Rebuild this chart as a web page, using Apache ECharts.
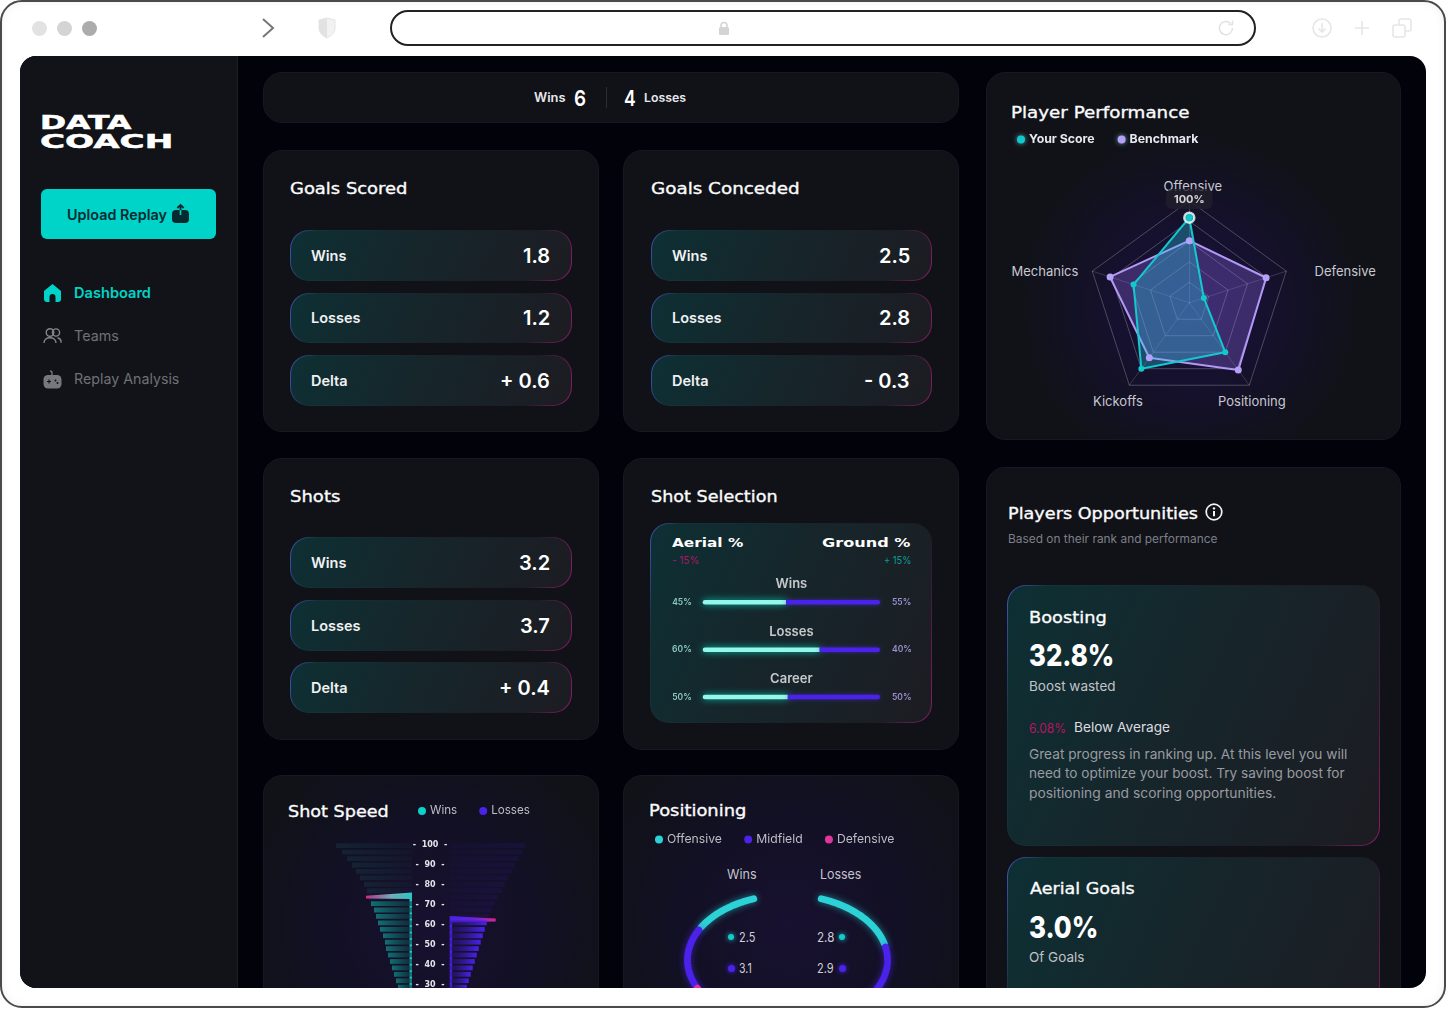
<!DOCTYPE html>
<html><head><meta charset="utf-8"><title>Data Coach</title>
<style>
html,body{margin:0;padding:0;background:#fff;width:1446px;height:1025px;overflow:hidden;font-family:Inter,sans-serif}
#frame{position:absolute;left:0;top:0;width:1442px;height:1004px;border:2px solid #4a4a4a;border-radius:22px;box-shadow:inset 0 0 10px rgba(0,0,0,.06)}
#app{position:absolute;left:0;top:0;width:1446px;height:1025px;clip-path:inset(56px 20px 37px 20px round 16px);background:#02020a}
#chart{position:absolute;left:0;top:0;width:1446px;height:1025px}
.box{position:absolute;box-sizing:border-box}
.panel{background:#101218;border:1px solid #161823;border-radius:19px}
.row{border:1.5px solid transparent;border-radius:19px;
 background:linear-gradient(115deg,#0d3034 0%,#16262b 45%,#1c1c22 100%) padding-box,
 linear-gradient(105deg,#4556b8 0%,#14333a 9%,#17262c 45%,#1c1c23 84%,#8c1c68 100%) border-box}
.t{position:absolute;white-space:nowrap;line-height:1;transform-origin:0 50%}
.title{font-family:"DejaVu Sans",sans-serif;font-weight:400;color:#f4f4f6;-webkit-text-stroke:.35px #f4f4f6}
.logo{-webkit-text-stroke:.5px #fff}
.dot{position:absolute;border-radius:50%}
</style></head><body>
<div id="app"><div id="ui"></div><div id="chart"></div></div>
<div id="frame"></div>
<div id="chrome"></div>
<script src="https://cdn.jsdelivr.net/npm/echarts@6/dist/echarts.min.js"></script>
<script>
// ---------- data ----------
const recordWins = 6, recordLosses = 4;
const rowLabels = ['Wins','Losses','Delta'];
const goalsScored = ['1.8','1.2','+ 0.6'];
const goalsConceded = ['2.5','2.8','- 0.3'];
const shotsValues = ['3.2','3.7','+ 0.4'];
const selectionCats = ['Wins','Losses','Career'];
const aerialShare = [45,60,50];
const groundShare = [55,40,50];
const aerialDrawn = [47,66,48];
const groundDrawn = [53,34,52];
const radarAxes = ['Offensive','Mechanics','Kickoffs','Positioning','Defensive'];
const yourScore = [100,69,96,72,18];
const benchmark = [73,98,80,98,95];
const speedTicks = ['100','96.8','93.6','90.4','87.2','84','80.8','77.6','74.4','71.2','68','64.8','61.6','58.4','55.2','52','48.8','45.6','42.4','39.2','36','32.8','29.6','26.4','23.2','20'];
const speedWins = [76,70,65,60,56,52,48,45,43,41,38,36,34,32,29,27,26,24,22,20,18,16,14,12,10,8];
const speedLosses = [75,72,68,65,62,58,55,52,48,45,42,40,37,35,33,31,29,27,25,23,21,19,17,15,13,11];
const winsMarker = [46,76.3,74.6,73.3,73];
const lossesMarker = [46,64.5,63.3,61.7,61.3];
const positionNames = ['Offensive','Midfield','Defensive'];
const positionWins = [2.5,3.1,2.6];
const positionLosses = [2.8,2.9,1.0];

// ---------- page helpers ----------
const ui = document.getElementById('ui');
function box(x0,y0,x1,y1,cls,style){const d=document.createElement('div');d.className='box '+(cls||'');
 d.style.cssText=`left:${x0}px;top:${y0}px;width:${x1-x0}px;height:${y1-y0}px;`+(style||'');ui.appendChild(d);return d;}
function T(text,x,cy,o){o=o||{};const d=document.createElement('div');d.className='t '+(o.cls||'');d.textContent=text;
 d.style.fontSize=(o.s||13)+'px';d.style.fontWeight=o.b||400;d.style.color=o.c||'#fff';if(o.f)d.style.fontFamily=o.f;
 (o.parent||ui).appendChild(d);const h=d.offsetHeight,w=d.offsetWidth;d.style.top=(cy-h/2)+'px';
 let sx=o.w?o.w/w:1,left=x;const fw=w*sx;if(o.a==='r')left=x-fw;if(o.a==='c')left=x-fw/2;d.style.left=left+'px';
 if(o.w)d.style.transform=`scaleX(${sx})`;return d;}
function title(text,x,cy,w,s){return T(text,x,cy+2,{s:s||15.5,w,cls:'title'});}
function svg(x,y,w,h,inner,parent){const d=document.createElement('div');d.style.cssText=`position:absolute;left:${x}px;top:${y}px;width:${w}px;height:${h}px`;
 d.innerHTML=`<svg width="${w}" height="${h}" viewBox="0 0 ${w} ${h}" style="display:block;overflow:visible">${inner}</svg>`;(parent||ui).appendChild(d);}
function dot(cx,cy,r,c){const d=document.createElement('div');d.className='dot';d.style.cssText=`left:${cx-r}px;top:${cy-r}px;width:${2*r}px;height:${2*r}px;background:${c};box-shadow:0 0 5px ${c}`;ui.appendChild(d);}

// ---------- browser chrome ----------
const chrome=document.getElementById('chrome');
[[39.5,'#e2e2e2'],[64.5,'#d4d4d4'],[89.5,'#acacac']].forEach(([x,c])=>{const d=document.createElement('div');d.className='dot';d.style.cssText=`left:${x-7.5}px;top:20.5px;width:15px;height:15px;background:${c}`;chrome.appendChild(d);});
svg(260,16,16,24,'<path d="M3 3 L13 12 L3 21" fill="none" stroke="#777" stroke-width="2"/>',chrome);
svg(318,17,18,22,'<path d="M1 3 L9 1 L17 3 V11 C17 16 13 19 9 21 C5 19 1 16 1 11Z" fill="#f2f2f2" stroke="#e4e4e4"/><path d="M1 3 L9 1 V21 C5 19 1 16 1 11Z" fill="#e2e2e2"/>',chrome);
const addr=document.createElement('div');addr.style.cssText='position:absolute;left:389.5px;top:10px;width:862px;height:32px;border:2px solid #222;border-radius:18px;background:#fff';chrome.appendChild(addr);
svg(718,22,12,13,'<rect x="1" y="5" width="10" height="8" rx="1.5" fill="#d4d4d4"/><path d="M3 5V3.5a3 3 0 0 1 6 0V5" fill="none" stroke="#d4d4d4" stroke-width="1.6"/>',chrome);
svg(1217,19,18,18,'<path d="M15.5 9a6.6 6.6 0 1 1-2-4.7M15.5 1.5v4h-4" fill="none" stroke="#e2e2e2" stroke-width="1.5"/>',chrome);
svg(1312,18,20,20,'<circle cx="10" cy="10" r="9" fill="none" stroke="#e6e6e6" stroke-width="1.6"/><path d="M10 5v9M6.5 10.5 10 14l3.5-3.5" fill="none" stroke="#e6e6e6" stroke-width="1.6"/>',chrome);
svg(1353,19,18,18,'<path d="M9 2v14M2 9h14" stroke="#e6e6e6" stroke-width="1.6"/>',chrome);
svg(1392,18,20,20,'<rect x="1" y="7" width="12" height="12" rx="2" fill="none" stroke="#e6e6e6" stroke-width="1.6"/><path d="M7 7V3a2 2 0 0 1 2-2h8a2 2 0 0 1 2 2v8a2 2 0 0 1-2 2h-4" fill="none" stroke="#e6e6e6" stroke-width="1.6"/>',chrome);

// ---------- sidebar ----------
box(20,56,238,988,'','background:#111318;border-right:1px solid #1b1d24');
T('DATA',40,122.5,{s:19,b:700,f:'"DejaVu Sans"',w:91,c:'#fff',cls:'logo'});
T('COACH',40,141,{s:19,b:700,f:'"DejaVu Sans"',w:133,c:'#fff',cls:'logo'});
box(41,189,216,239,'','background:#00d4c8;border-radius:6px');
T('Upload Replay',66.5,214.5,{s:14,b:600,c:'#062a30',w:99.5});
svg(171,204,20,20,'<rect x="1" y="6" width="17" height="13" rx="4" fill="#062a30"/><path d="M9.5 1v5M6.3 4 9.5 1l3.2 3" fill="none" stroke="#062a30" stroke-width="1.8"/><path d="M9.5 6v5" stroke="#00d4c8" stroke-width="1.6"/>');
svg(43,283,19,20,'<path d="M1 8 9.5 1 18 8v8a3 3 0 0 1-3 3h-2.5v-5a3 3 0 0 0-6 0v5H4a3 3 0 0 1-3-3Z" fill="#00d4c8"/>');
T('Dashboard',74,293,{s:14.5,b:600,c:'#00d4c8',w:76.5});
svg(43,327,19,18,'<g fill="none" stroke="#85868c" stroke-width="1.4"><circle cx="7" cy="5.5" r="3.8"/><circle cx="13" cy="5.5" r="3.6"/><path d="M1 16c0-3.5 3-5.3 6-5.3s6 1.8 6 5.3M14.5 10.8c2 .4 3.7 2 3.7 5"/></g>');
T('Teams',74,336,{s:14.5,c:'#6f7076',w:44.5});
svg(43,370,19,19,'<rect x="0.5" y="5" width="18" height="13.5" rx="4.5" fill="#77787e"/><path d="M9 5V3Q9 1 7 1" fill="none" stroke="#77787e" stroke-width="1.4"/><path d="M4 11.5h4M6 9.5v4" stroke="#111318" stroke-width="1.2"/><circle cx="12.5" cy="10.5" r="1" fill="#111318"/><circle cx="14.5" cy="13" r="1" fill="#111318"/>');
T('Replay Analysis',74,379,{s:14.5,c:'#6f7076',w:105});

// ---------- panels ----------
box(263,72,959,123,'panel');
T('Wins',534,98,{s:12.5,b:600,c:'#e8e8ec',w:32});
T(String(recordWins),574,97.5,{s:22,b:600,w:12});
box(605.5,87,606.5,108,'','background:#2b2c35');
T(String(recordLosses),624,97.5,{s:22,b:600,w:12});
T('Losses',644,98,{s:12,b:600,c:'#e8e8ec',w:42});

function statCard(x0,x1,y0,y1,name,tw,vals,rowsY,rowLeft){
 box(x0,y0,x1,y1,'panel');
 title(name,rowLeft,y0+38,tw);
 rowsY.forEach((ry,i)=>{
  box(rowLeft,ry,x1-27,ry+50.5,'row');
  T(rowLabels[i],rowLeft+21,ry+26,{s:14.5,b:600,c:'#f1f1f3'});
  T(vals[i],x1-49,ry+25.5,{s:20,b:600,c:'#fff',a:'r'});
 });
}
statCard(263,599,150,432,'Goals Scored',118,goalsScored,[230,292.5,355],290);
statCard(623,959,150,432,'Goals Conceded',149,goalsConceded,[230,292.5,355],651);
statCard(263,599,458,740,'Shots',50,shotsValues,[537,600,662],290);

box(623,458,959,750,'panel');
title('Shot Selection',650.5,496,127);
box(650,523,932,723,'row');
T('Aerial %',672,543,{s:12.5,b:700,f:'"DejaVu Sans"',w:71});
T('Ground %',822,543,{s:12.5,b:700,f:'"DejaVu Sans"',w:89});
T('- 15%',672,560.5,{s:11,c:'#a8175f',w:27});
T('+ 15%',884,560.5,{s:11,c:'#0d9c92',w:27});

box(263,775,599,1020,'panel','background:radial-gradient(circle 190px at 166px 150px,#181130 0%,rgba(20,15,45,.6) 55%,rgba(16,18,24,0) 100%),#101218');
title('Shot Speed',288,811,101);
box(623,775,959,1020,'panel','background:radial-gradient(circle 200px at 166px 150px,#181130 0%,rgba(20,15,45,.6) 55%,rgba(16,18,24,0) 100%),#101218');
title('Positioning',649,810,97);
T('Wins',727,874,{s:13,c:'#c4c4cc',w:30});
T('Losses',820,874,{s:13,c:'#c4c4cc',w:41});
[937,968].forEach((cy,i)=>{
 const c=i?'#4a22ea':'#14cbc8';
 dot(731,cy,i?3.5:3,c);
 T(String(positionWins[i].toFixed(1)),739,cy,{s:13,c:'#cfcfd6',w:i?13:16});
 T(String(positionLosses[i].toFixed(1)),817,cy,{s:13,c:'#cfcfd6',w:17});
 dot(842,cy,i?3.5:3,c);
});

box(986,72,1401,440,'panel','background:radial-gradient(circle 170px at 203px 231px,#1c1140 0%,rgba(24,16,55,.65) 50%,rgba(16,18,24,0) 100%),#101218');
title('Player Performance',1011,112,178);
[[0,1193,186],[1,1045,271.5],[2,1118,401],[3,1252,401],[4,1345,271.5]].forEach(([i,x,y])=>T(radarAxes[i],x,y,{s:13,c:'#c8c8d0',a:'c'}));

box(986,467,1401,1020,'panel');
title('Players Opportunities',1008,513,190);
svg(1205,503,18,18,'<circle cx="9" cy="9" r="7.8" fill="none" stroke="#f4f4f6" stroke-width="1.7"/><path d="M9 8v5.2" stroke="#f4f4f6" stroke-width="2"/><circle cx="9" cy="5.4" r="1.2" fill="#f4f4f6"/>');
T('Based on their rank and performance',1008,539.5,{s:11.5,c:'#7f7f87',w:209});
box(1007,585,1380,846,'row');
title('Boosting',1029,617,78);
T('32.8%',1029,654.5,{s:30,b:800,w:85});
T('Boost wasted',1029,686.5,{s:13.5,c:'#c2c2c8',w:87});
T('6.08%',1029,728,{s:13,c:'#b8145f',w:37});
T('Below Average',1074,728,{s:13.5,c:'#dcdce0',w:96});
T('Great progress in ranking up. At this level you will',1029,754.5,{s:13.5,c:'#9a9aa0',w:318});
T('need to optimize your boost. Try saving boost for',1029,774,{s:13.5,c:'#9a9aa0',w:316});
T('positioning and scoring opportunities.',1029,794,{s:13.5,c:'#9a9aa0',w:247});
box(1007,857,1380,1060,'row');
title('Aerial Goals',1030,888,105);
T('3.0%',1029,927,{s:30,b:800,w:69});
T('Of Goals',1029,958,{s:13.5,c:'#c2c2c8',w:55});

// ---------- charts (page-pixel layout: the canvas covers the window) ----------
const FF='Inter, sans-serif';
const G=(x0,c0,x1,c1)=>new echarts.graphic.LinearGradient(x0,0,x1,0,[{offset:0,color:c0},{offset:1,color:c1}]);
const winsActiveFrom=9, lossesActiveFrom=12;
function marker(color0,color1,color2,line,side){return function(params,api){
 const p=(x,y)=>api.coord([x,y]);
 const len=api.value(0),a=api.value(1),b=api.value(2),c=api.value(3),d=api.value(4);
 const poly=[p(0,a),p(len,b),p(len,c),p(0,d)];
 const base0=p(0,d),base1=p(0,20);
 return {type:'group',children:[
  {type:'rect',shape:{x:base0[0]-(side<0?2.5:0),y:base0[1],width:2.5,height:base1[1]-base0[1]},style:{fill:line}},
  {type:'polygon',shape:{points:poly},style:{fill:side<0?
    new echarts.graphic.LinearGradient(0,0,1,0,[{offset:0,color:color2},{offset:.55,color:color1},{offset:1,color:color0}]):
    new echarts.graphic.LinearGradient(0,0,1,0,[{offset:0,color:color0},{offset:.5,color:color1},{offset:1,color:color2}])}}
 ]};
};}
const hiddenX=(idx,inv,max,min)=>({type:'value',gridIndex:idx,show:false,inverse:inv,min:min||0,max:max});

// each half of the ring: its start angle, direction and sweep on the (flattened) ring
const ringSides=[{values:positionWins,start:109.7,dir:1},{values:positionLosses,start:70.3,dir:-1}];
const ringSweep=140.6, ringGap=3;
const ringColors=['#2cd2d6','#4a22ea','#e0359a'];
function ringSegments(k){
 return ringSides.map(s=>{
  const total=s.values.reduce((a,b)=>a+b,0);
  const before=s.values.slice(0,k).reduce((a,b)=>a+b,0);
  const a0=s.start+s.dir*ringSweep*before/total;
  const a1=s.start+s.dir*(ringSweep*(before+s.values[k])/total-ringGap);
  return [a0,a1];
 });
}
function ringItem(color){return function(params,api){
 const a0=api.value(0),a1=api.value(1),pts=[];
 for(let i=0;i<=48;i++){const t=(a0+(a1-a0)*i/48)*Math.PI/180;pts.push(api.coord([Math.cos(t),Math.sin(t)]));}
 return {type:'polyline',shape:{points:pts},style:{fill:null,stroke:color,lineWidth:6.8,lineCap:'round',lineJoin:'round',shadowBlur:7,shadowColor:color==='#2cd2d6'?'rgba(40,220,220,.55)':'rgba(80,40,240,.6)'}};
};}

const option={
 animation:false,
 textStyle:{fontFamily:FF},
 legend:[
  {data:['Your Score','Benchmark'],left:1012,top:128.5,itemWidth:8,itemHeight:8,itemGap:23,icon:'circle',
   itemStyle:{shadowBlur:5,shadowColor:'rgba(120,220,230,.7)'},selectedMode:false,textStyle:{color:'#e8e8f0',fontSize:12.3,fontWeight:700,fontFamily:FF,padding:[0,0,0,-1]}},
  {data:[{name:'Wins',itemStyle:{color:'#08d2c9'}},{name:'Losses',itemStyle:{color:'#4a22ea'}}],left:413,top:800,itemWidth:8,itemHeight:8,itemGap:22,icon:'circle',selectedMode:false,textStyle:{color:'#bdbdc6',fontSize:11.6,fontFamily:FF,padding:[0,0,0,-1]}},
  {data:positionNames,left:650,top:828.5,itemWidth:8,itemHeight:8,itemGap:22.3,icon:'circle',selectedMode:false,textStyle:{color:'#bdbdc6',fontSize:12.2,fontFamily:FF,padding:[0,0,0,-1]}}
 ],
 radar:{center:[1189.3,302.7],radius:102,startAngle:90,shape:'polygon',splitNumber:5,
  indicator:radarAxes.map(n=>({name:n,min:0,max:120})),
  axisName:{show:false},
  splitArea:{show:false},
  splitLine:{lineStyle:{color:'rgba(255,255,255,.24)',width:1}},
  axisLine:{lineStyle:{color:'rgba(255,255,255,.16)',width:1}},axisTick:{show:false}},
 grid:[
  {left:322,width:90,top:842.5,height:167.2},
  {left:449.7,width:90,top:842.5,height:167.2},
  {left:322,width:90,top:845,height:160},
  {left:449.7,width:90,top:845,height:160},
  {left:702.7,width:177.3,top:578.6,height:142.2},
  {left:1188.3,width:2,top:200.7,height:102},      // peak point, same scale as the radar's Offensive spoke
  {left:687.5,width:200,top:895,height:140}        // flattened position ring
 ],
 xAxis:[hiddenX(0,true,90),hiddenX(1,false,90),hiddenX(2,true,90),hiddenX(3,false,90),hiddenX(4,false,100),hiddenX(5,false,1,-1),hiddenX(6,false,1,-1)],
 yAxis:[
  {type:'category',gridIndex:0,data:speedTicks,inverse:true,show:false},
  {type:'category',gridIndex:1,data:speedTicks,inverse:true,show:false},
  {type:'value',gridIndex:2,min:20,max:100,interval:10,position:'right',axisLine:{show:false},axisTick:{show:false},splitLine:{show:false},
   axisLabel:{show:true,showMinLabel:false,margin:18,align:'center',padding:[2,0,0,0],color:'#e4e4ea',fontSize:8,fontWeight:700,fontFamily:'"DejaVu Sans"',formatter:v=>'-  '+v+'  -'}},
  {type:'value',gridIndex:3,min:20,max:100,interval:10,show:false},
  {type:'category',gridIndex:4,data:selectionCats,inverse:true,position:'left',axisLine:{show:false},axisTick:{show:false},
   axisLabel:{margin:11,color:'#8ecac4',fontSize:8.5,fontWeight:600,fontFamily:FF,formatter:(v,i)=>aerialShare[i]+'%'}},
  {type:'category',gridIndex:4,data:selectionCats,inverse:true,position:'right',axisLine:{show:false},axisTick:{show:false},
   axisLabel:{margin:12,color:'#9b90d2',fontSize:8.5,fontWeight:600,fontFamily:FF,formatter:(v,i)=>groundShare[i]+'%'}},
  {type:'value',gridIndex:5,min:0,max:120,show:false},
  {type:'value',gridIndex:6,min:-1,max:1,show:false}
 ],
 series:[
  {type:'radar',name:'Player Performance',silent:true,symbol:'circle',z:3,
   data:[
    {name:'Benchmark',value:benchmark,symbolSize:7,itemStyle:{color:'#b7a0f7'},lineStyle:{color:'#b7a0f7',width:2},areaStyle:{color:'rgba(150,110,240,.42)'}},
    {name:'Your Score',value:yourScore,symbolSize:6,itemStyle:{color:'#10c9cc'},lineStyle:{color:'#10c9cc',width:2},areaStyle:{color:'rgba(40,200,225,.48)'}}
   ]},
  {type:'scatter',name:'Peak',xAxisIndex:5,yAxisIndex:6,z:6,silent:true,data:[[0,yourScore[0]]],symbolSize:10,
   itemStyle:{color:'#10c9cc',borderColor:'#fff',borderWidth:2.5},
   label:{show:true,position:'top',distance:2.5,color:'#fff',fontSize:11,fontWeight:700,fontFamily:FF,formatter:p=>p.value[1]+'%',
    backgroundColor:'#201f2b',borderRadius:6,padding:[5,8,4,8]}},
  {type:'bar',name:'Wins',xAxisIndex:0,yAxisIndex:0,data:speedWins,barWidth:4.8,silent:true,
   itemStyle:{color:p=>p.dataIndex<winsActiveFrom?G(0,'rgba(30,120,120,.18)',1,'rgba(30,120,120,.05)'):G(0,'rgba(18,125,125,.88)',1,'rgba(12,60,66,.6)')}},
  {type:'bar',name:'Losses',xAxisIndex:1,yAxisIndex:1,data:speedLosses,barWidth:4.8,silent:true,
   itemStyle:{color:p=>p.dataIndex<lossesActiveFrom?G(0,'rgba(60,30,180,.05)',1,'rgba(60,30,180,.15)'):G(0,'rgba(40,20,120,.4)',1,'#4a22ea')}},
  {type:'custom',name:'Wins marker',xAxisIndex:2,yAxisIndex:2,clip:false,silent:true,
   renderItem:marker('#2cc8c8','#7cb0c0','#d9248f','#1fc9c6',-1),data:[winsMarker]},
  {type:'custom',name:'Losses marker',xAxisIndex:3,yAxisIndex:3,clip:false,silent:true,
   renderItem:marker('#4a22ea','#6a22e0','#d9248f','#4a22ea',1),data:[lossesMarker]},
  {type:'bar',name:'Aerial %',stack:'sel',xAxisIndex:4,yAxisIndex:4,data:aerialDrawn,barWidth:4.5,silent:true,
   itemStyle:{color:'#93f7ea',borderRadius:[3,0,0,3],shadowBlur:7,shadowColor:'rgba(0,240,220,.75)'}},
  {type:'bar',name:'Ground %',stack:'sel',xAxisIndex:4,yAxisIndex:4,data:groundDrawn,barWidth:4.5,silent:true,
   itemStyle:{color:'#4a22ea',borderRadius:[0,3,3,0],shadowBlur:4,shadowColor:'rgba(80,40,240,.6)'}},
  {type:'scatter',name:'Selection categories',xAxisIndex:4,yAxisIndex:4,symbolSize:1,silent:true,itemStyle:{color:'rgba(0,0,0,0)'},
   data:selectionCats.map((c,i)=>[50,i]),
   label:{show:true,position:'top',distance:11,color:'#f1f1f3',fontSize:13,fontWeight:600,fontFamily:FF,formatter:p=>selectionCats[p.dataIndex]}},
  ...positionNames.map((n,k)=>({type:'custom',name:n,xAxisIndex:6,yAxisIndex:7,clip:false,silent:true,
   itemStyle:{color:ringColors[k]},renderItem:ringItem(ringColors[k]),data:ringSegments(k)}))
 ]
};
const chart=echarts.init(document.getElementById('chart'),null,{renderer:'canvas',width:1446,height:1025});
chart.setOption(option);
</script>
</body></html>
